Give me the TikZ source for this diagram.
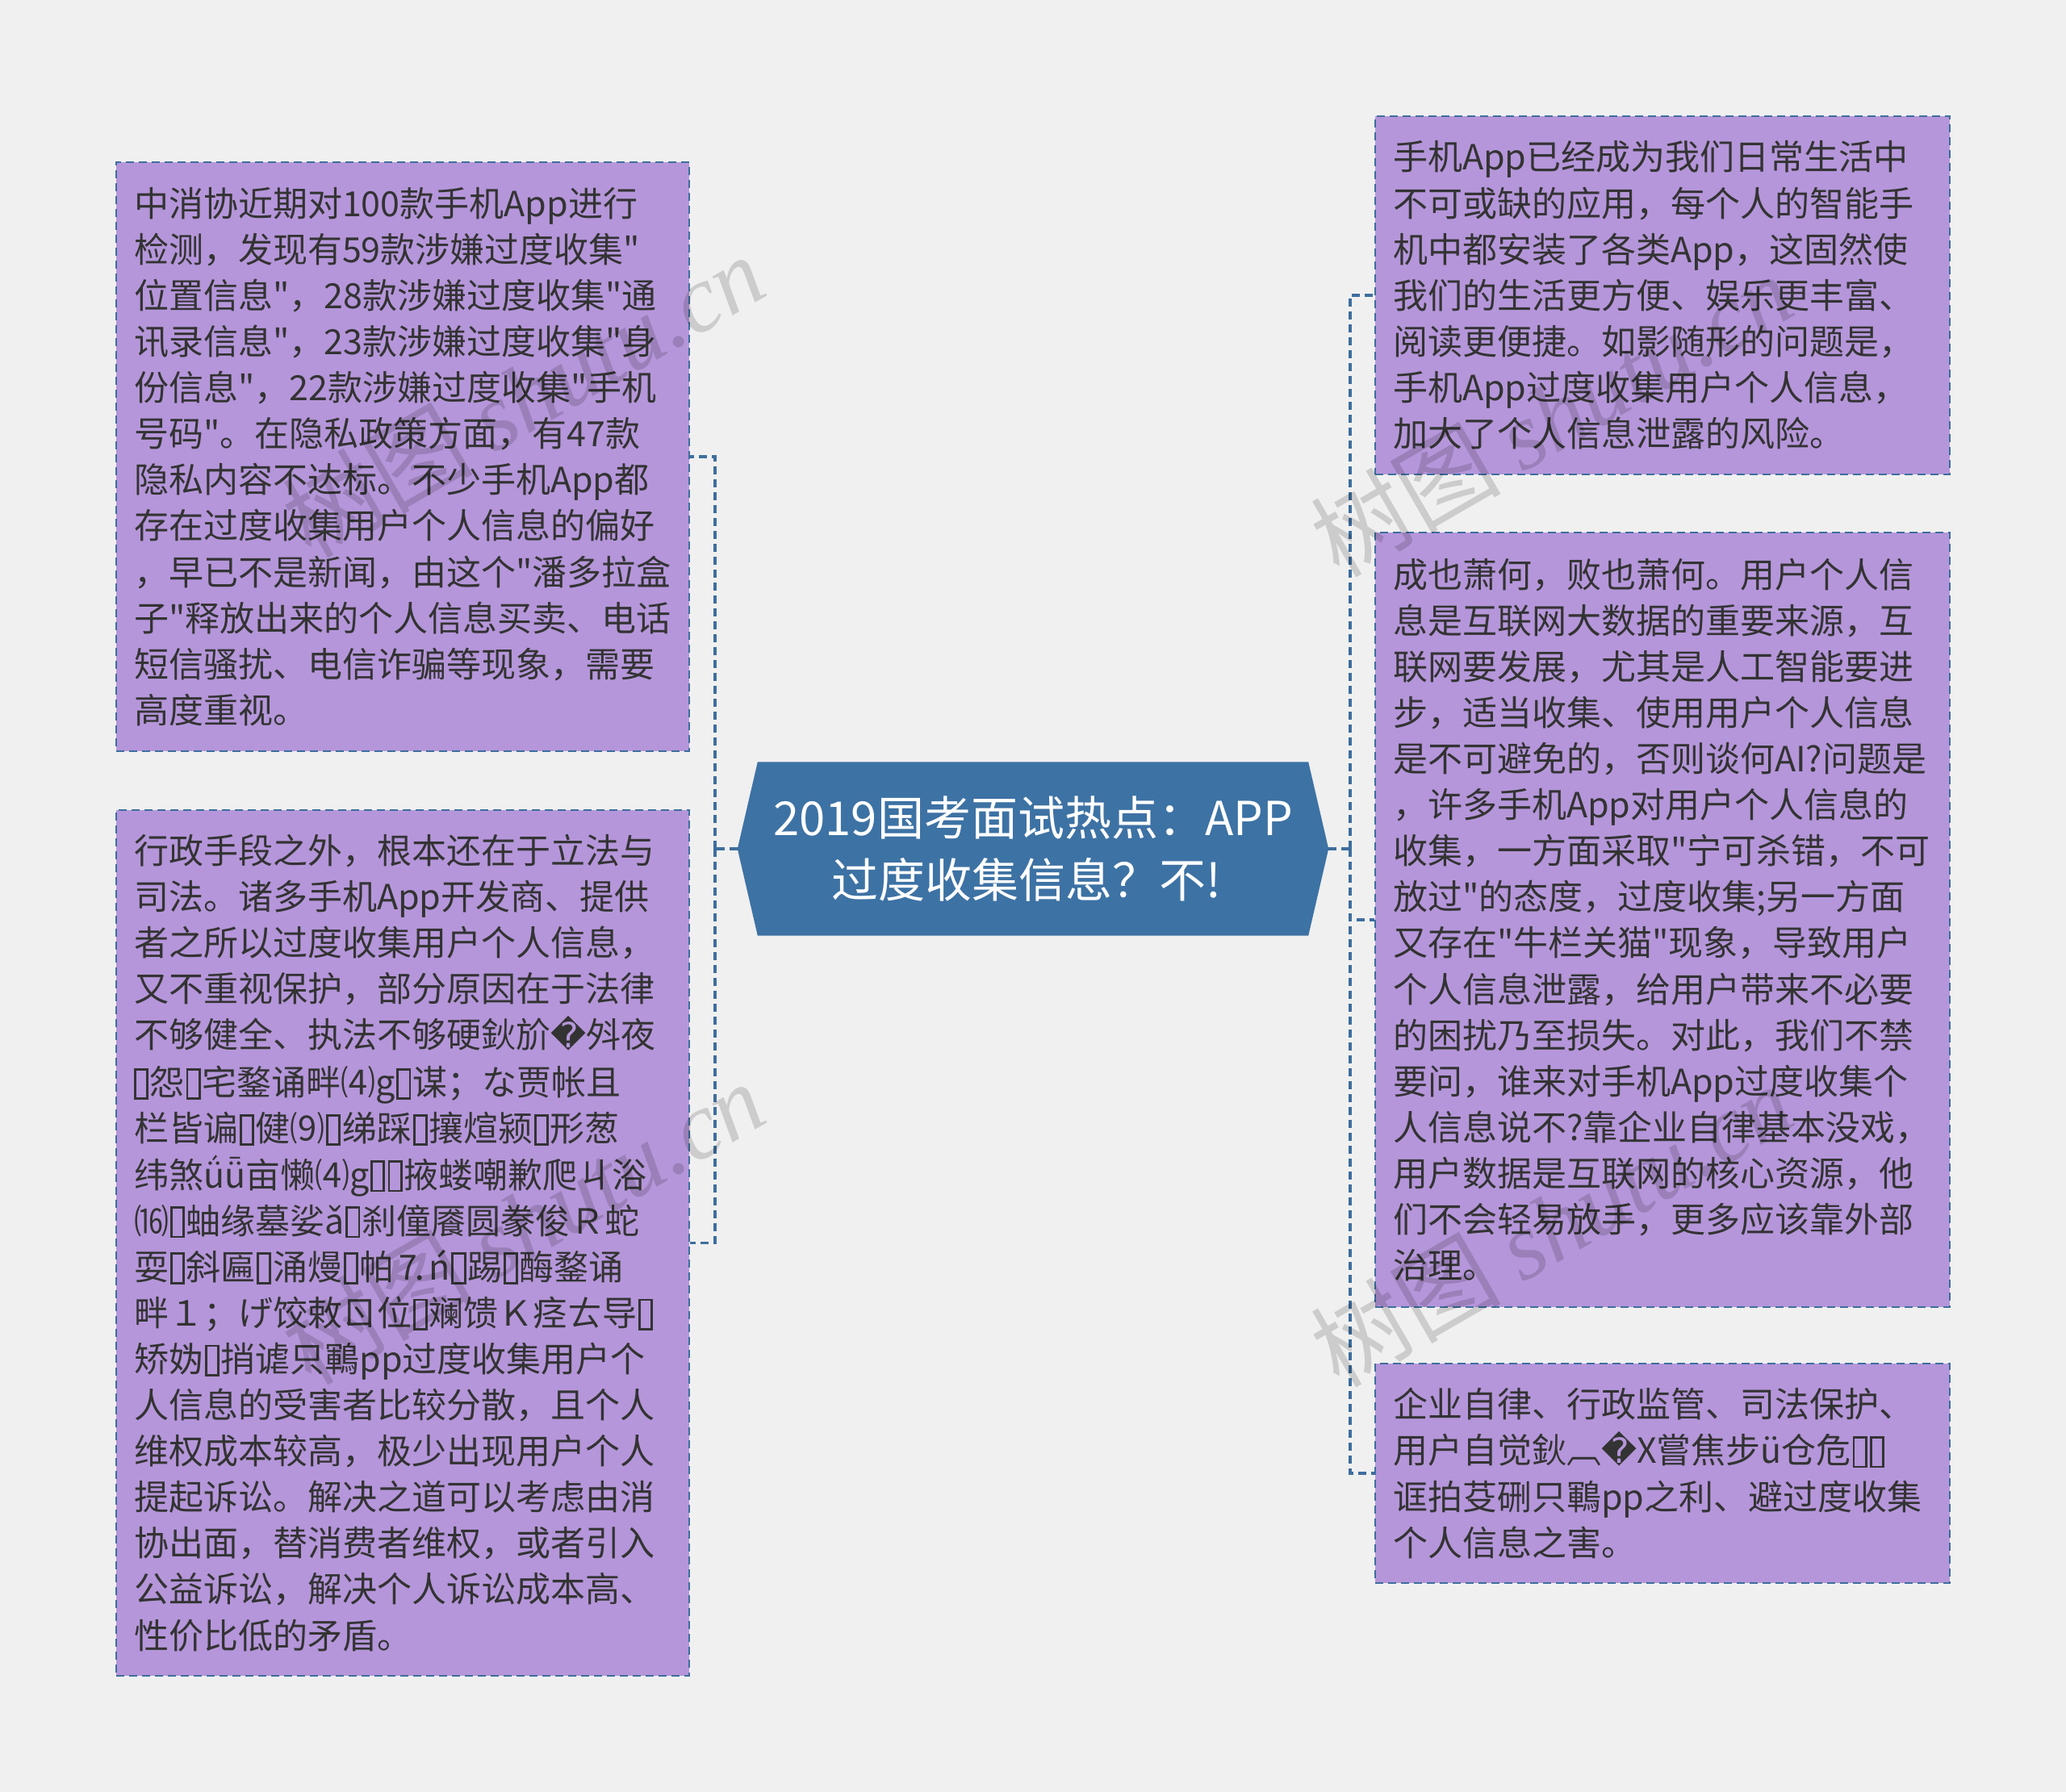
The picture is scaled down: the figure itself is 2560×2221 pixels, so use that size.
\documentclass[tikz,border=0pt]{standalone}
\usepackage{fontspec}
\setmainfont{Noto Sans CJK SC}[Ligatures=TeXOff]
\newfontfamily\wmserif{Liberation Serif}[Ligatures=TeXOff]
\newfontfamily\dejavu{DejaVu Sans}
\usetikzlibrary{backgrounds}
\definecolor{bgc}{HTML}{F0F0F0}
\definecolor{boxfill}{HTML}{B596DA}
\definecolor{linec}{HTML}{3E6E9E}
\definecolor{cfill}{HTML}{3D72A4}
\definecolor{txt}{HTML}{333333}
\newcommand\tf{\kern0.04em\raisebox{-0.06em}{\fboxsep0pt\fboxrule0.065em\framebox[0.42em]{\rule{0pt}{0.78em}}}\kern0.04em}
\newcommand\rc{{\dejavu �}}
\begin{document}
\begin{tikzpicture}[x=1pt,y=-1pt,
  boxnode/.style={rectangle, fill=boxfill, draw=linec, line width=2.8pt,
    dash pattern=on 10pt off 6pt, align=left, text=txt,
    font=\fontsize{43}{57.1}\selectfont, inner xsep=22pt, inner ysep=0pt},
  ctext/.style={rectangle, inner sep=0pt, align=center, text=white,
    font=\fontsize{58}{77}\selectfont, minimum width=682pt, minimum height=215pt},
  conn/.style={draw=linec, line width=3.5pt, dash pattern=on 10pt off 6pt},
  wm/.style={text=black, opacity=0.15, font=\fontsize{118}{120}\selectfont, rotate=30}
]
\useasboundingbox (0,0) rectangle (2560,2221);

% center topic
\node[ctext] (c) at (1280,1052) {2019国考面试热点：APP\\过度收集信息？不!\kern16pt};
\coordinate (cl) at ([xshift=-25pt]c.west);
\coordinate (cr) at ([xshift=25pt]c.east);
\begin{pgfonlayer}{background}
  \fill[bgc] (0,0) rectangle (2560,2221);
  \fill[cfill] (c.north west) -- (c.north east) -- (cr) -- (c.south east)
     -- (c.south west) -- (cl) -- cycle;
\end{pgfonlayer}

% left boxes
\node[boxnode, text width=666pt, minimum width=710pt, minimum height=730pt] (tl) at (499,566) {%
中消协近期对100款手机App进行\\
检测，发现有59款涉嫌过度收集"\\
位置信息"，28款涉嫌过度收集"通\\
讯录信息"，23款涉嫌过度收集"身\\
份信息"，22款涉嫌过度收集"手机\\
号码"。在隐私政策方面，有47款\\
隐私内容不达标。不少手机App都\\
存在过度收集用户个人信息的偏好\\
，早已不是新闻，由这个"潘多拉盒\\
子"释放出来的个人信息买卖、电话\\
短信骚扰、电信诈骗等现象，需要\\
高度重视。};

\node[boxnode, text width=666pt, minimum width=710pt, minimum height=1073pt] (bl) at (499,1540.5) {%
行政手段之外，根本还在于立法与\\
司法。诸多手机App开发商、提供\\
者之所以过度收集用户个人信息，\\
又不重视保护，部分原因在于法律\\
不够健全、执法不够硬鈥斺\rc{}斘夜\\
\tf{}怨\tf{}宅鍪诵畔⑷g\tf{}谋；な贾帐且\\
栏皆谝\tf{}健⑼\tf{}绨踩\tf{}攘煊颍\tf{}形葱\\
纬煞ǘǖ亩懒⑷g\tf{}\tf{}掖蝼嘲歉爬ㄐ浴\\
⒃\tf{}蚰缘墓娑ǎ\tf{}刹僮餍圆豢俊Ｒ蛇\\
耍\tf{}斜匾\tf{}涌熳\tf{}帕⒎ń\tf{}踢\tf{}酶鍪诵\\
畔１；げ饺敕ㄖ位\tf{}斓馈Ｋ痉ㄊ导\tf{}\\
矫妫\tf{}捎谑只鶤pp过度收集用户个\\
人信息的受害者比较分散，且个人\\
维权成本较高，极少出现用户个人\\
提起诉讼。解决之道可以考虑由消\\
协出面，替消费者维权，或者引入\\
公益诉讼，解决个人诉讼成本高、\\
性价比低的矛盾。};

% right boxes
\node[boxnode, text width=668pt, minimum width=712pt, minimum height=444pt] (rt) at (2060,366) {%
手机App已经成为我们日常生活中\\
不可或缺的应用，每个人的智能手\\
机中都安装了各类App，这固然使\\
我们的生活更方便、娱乐更丰富、\\
阅读更便捷。如影随形的问题是，\\
手机App过度收集用户个人信息，\\
加大了个人信息泄露的风险。};

\node[boxnode, text width=668pt, minimum width=712pt, minimum height=960pt] (rm) at (2060,1140) {%
成也萧何，败也萧何。用户个人信\\
息是互联网大数据的重要来源，互\\
联网要发展，尤其是人工智能要进\\
步，适当收集、使用用户个人信息\\
是不可避免的，否则谈何AI?问题是\\
，许多手机App对用户个人信息的\\
收集，一方面采取"宁可杀错，不可\\
放过"的态度，过度收集;另一方面\\
又存在"牛栏关猫"现象，导致用户\\
个人信息泄露，给用户带来不必要\\
的困扰乃至损失。对此，我们不禁\\
要问，谁来对手机App过度收集个\\
人信息说不?靠企业自律基本没戏，\\
用户数据是互联网的核心资源，他\\
们不会轻易放手，更多应该靠外部\\
治理。};

\node[boxnode, text width=668pt, minimum width=712pt, minimum height=272pt] (rb) at (2060,1826) {%
企业自律、行政监管、司法保护、\\
用户自觉鈥︹\rc{}X嘗焦步ü仓危\tf{}\tf{}\\
诓拍芟硎只鶤pp之利、避过度收集\\
个人信息之害。};

% connectors
\coordinate (lbus) at ([xshift=-28pt]cl);
\coordinate (rbus) at ([xshift=27pt]cr);
\draw[conn] (cl) -- (lbus);
\draw[conn] (lbus) |- (tl.east);
\draw[conn] (lbus) |- (bl.east);
\draw[conn] (cr) -- (rbus);
\draw[conn] (rbus) |- (rt.west);
\draw[conn] (rbus) |- (rm.west);
\draw[conn] (rbus) |- (rb.west);

% watermarks
\node[wm] (wm1) at (648,490) {树图 {\wmserif\itshape shutu.cn}};
\node[wm] (wm2) at (648,1515) {树图 {\wmserif\itshape shutu.cn}};
\node[wm] (wm3) at (1922,514) {树图 {\wmserif\itshape shutu.cn}};
\node[wm] (wm4) at (1922,1518) {树图 {\wmserif\itshape shutu.cn}};
\end{tikzpicture}
\end{document}
